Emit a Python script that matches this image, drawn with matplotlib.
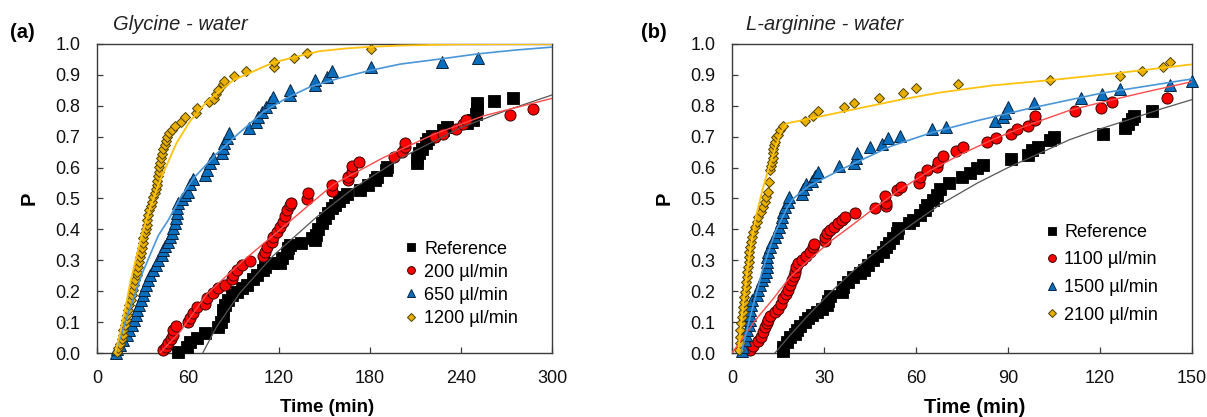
import matplotlib
matplotlib.use("Agg")
import matplotlib.pyplot as plt
from matplotlib.ticker import MultipleLocator, FormatStrFormatter

plt.rcParams['font.family'] = ['Liberation Sans', 'DejaVu Sans']

# ---------------- Panel (a): Glycine - water ----------------
gly_ref_t = [53.6, 59.1, 61.3, 65.7, 71.2, 80.0, 81.5, 82.9, 83.3, 84.4, 86.6, 88.8, 92.1,
             95.4, 98.7, 102.6, 105.3, 109.6, 110.8, 115.8, 120.6, 121.8, 125.0, 126.1,
             127.2, 134.5, 141.5, 143.7, 144.4, 145.9, 148.1, 150.3, 152.5, 154.7, 156.9,
             159.7, 162.4, 164.6, 173.4, 178.9, 183.3, 184.8, 190.5, 191.4, 210.7, 211.1,
             212.5, 214.0, 216.9, 218.4, 220.6, 228.3, 230.5, 243.7, 248.1, 249.8, 250.3,
             250.3, 261.9, 274.4]
gly_ref_p = [0.004, 0.020, 0.037, 0.047, 0.064, 0.085, 0.101, 0.120, 0.139, 0.155, 0.172,
             0.188, 0.198, 0.209, 0.220, 0.239, 0.252, 0.269, 0.279, 0.292, 0.290, 0.306,
             0.323, 0.339, 0.350, 0.355, 0.371, 0.366, 0.382, 0.400, 0.420, 0.436, 0.452,
             0.468, 0.479, 0.493, 0.504, 0.515, 0.528, 0.544, 0.560, 0.571, 0.592, 0.603,
             0.616, 0.630, 0.646, 0.659, 0.679, 0.692, 0.702, 0.722, 0.730, 0.743, 0.754,
             0.773, 0.792, 0.808, 0.817, 0.824]

gly_200_t = [43.7, 45.5, 47.0, 48.6, 49.9, 50.3, 52.1, 60.2, 61.3, 63.5, 65.7, 71.2, 72.3,
             76.3, 80.0, 84.4, 88.8, 89.9, 92.1, 95.4, 100.9, 109.2, 110.8, 111.9, 115.2,
             115.8, 118.5, 120.6, 122.4, 123.9, 125.0, 127.2, 128.2, 138.2, 139.3, 154.7,
             154.7, 165.7, 165.7, 167.9, 167.9, 172.9, 195.8, 200.8, 203.0, 203.0, 222.8,
             227.9, 236.6, 241.0, 243.2, 272.3, 287.6]
gly_200_p = [0.010, 0.021, 0.031, 0.044, 0.058, 0.074, 0.087, 0.101, 0.112, 0.128, 0.150,
             0.160, 0.177, 0.193, 0.209, 0.220, 0.241, 0.252, 0.269, 0.285, 0.299, 0.314,
             0.328, 0.344, 0.360, 0.376, 0.393, 0.409, 0.425, 0.443, 0.463, 0.479, 0.487,
             0.500, 0.517, 0.525, 0.544, 0.560, 0.571, 0.587, 0.605, 0.619, 0.635, 0.651,
             0.668, 0.681, 0.698, 0.709, 0.725, 0.741, 0.754, 0.770, 0.789]

gly_650_t = [12.5, 13.4, 15.2, 17.3, 19.6, 21.3, 22.9, 24.4, 25.7, 26.6, 27.9, 28.8, 30.1,
             31.0, 32.3, 33.8, 34.9, 37.1, 38.9, 40.4, 42.6, 43.7, 44.8, 47.0, 48.1, 49.2,
             50.3, 51.4, 52.1, 52.5, 52.9, 53.6, 55.8, 58.0, 60.2, 61.3, 63.0, 71.2, 72.3,
             74.5, 76.7, 82.2, 83.3, 83.7, 85.4, 87.2, 100.4, 104.8, 106.3, 108.6, 111.4,
             114.0, 115.8, 127.2, 127.2, 143.7, 143.7, 151.4, 154.7, 180.6, 227.2, 250.9]
gly_650_p = [0.000, 0.012, 0.026, 0.042, 0.058, 0.074, 0.091, 0.107, 0.123, 0.139, 0.155,
             0.172, 0.188, 0.204, 0.220, 0.236, 0.252, 0.269, 0.285, 0.301, 0.317, 0.333,
             0.346, 0.360, 0.376, 0.389, 0.403, 0.420, 0.436, 0.452, 0.468, 0.484, 0.500,
             0.511, 0.522, 0.547, 0.562, 0.576, 0.592, 0.614, 0.630, 0.646, 0.662, 0.679,
             0.695, 0.711, 0.727, 0.749, 0.765, 0.781, 0.797, 0.813, 0.830, 0.835, 0.851,
             0.867, 0.883, 0.894, 0.914, 0.927, 0.943, 0.956]

gly_1200_t = [13.4, 14.0, 15.2, 16.3, 16.9, 17.3, 18.5, 19.1, 20.0, 20.6, 21.3, 22.2, 22.9,
              23.5, 24.4, 25.0, 26.2, 26.6, 27.2, 27.9, 28.3, 28.8, 29.5, 30.1, 30.5, 31.6,
              32.3, 32.8, 33.2, 33.8, 34.5, 35.4, 36.1, 37.1, 38.2, 38.9, 39.3, 39.7, 40.4,
              40.6, 41.0, 41.5, 41.9, 42.6, 43.7, 44.8, 45.5, 46.4, 47.7, 49.2, 51.4, 55.2,
              58.0, 65.3, 66.1, 74.0, 77.1, 78.4, 80.0, 82.9, 83.7, 90.3, 98.2, 116.7, 116.7,
              130.0, 138.2, 180.6]
gly_1200_p = [0.004, 0.015, 0.029, 0.044, 0.058, 0.074, 0.091, 0.107, 0.123, 0.139, 0.155,
              0.172, 0.188, 0.204, 0.220, 0.236, 0.252, 0.263, 0.279, 0.296, 0.312, 0.323,
              0.339, 0.355, 0.371, 0.387, 0.400, 0.414, 0.430, 0.447, 0.463, 0.476, 0.490,
              0.506, 0.519, 0.530, 0.544, 0.558, 0.573, 0.587, 0.601, 0.616, 0.630, 0.644,
              0.659, 0.673, 0.687, 0.700, 0.711, 0.722, 0.735, 0.749, 0.763, 0.778, 0.792,
              0.811, 0.822, 0.838, 0.851, 0.870, 0.881, 0.897, 0.912, 0.927, 0.943, 0.956,
              0.972, 0.984]

# fitted model curves (panel a)
gly_ref_fit_t = [69.7, 78.9, 94.3, 116.2, 144.8, 169.0, 200.0, 240.0, 270.0, 300.0]
gly_ref_fit_p = [0.0, 0.085, 0.195, 0.315, 0.440, 0.533, 0.630, 0.730, 0.785, 0.835]
gly_200_fit_t = [41.5, 55.0, 72.3, 94.3, 118.5, 140.0, 155.8, 188.7, 221.7, 254.6, 300.0]
gly_200_fit_p = [0.0, 0.070, 0.190, 0.290, 0.390, 0.480, 0.545, 0.632, 0.707, 0.767, 0.824]
gly_650_fit_t = [12.0, 20.0, 30.0, 40.4, 47.0, 54.7, 63.5, 78.9, 92.1, 109.6, 125.0, 140.0,
                 160.0, 180.6, 200.0, 227.2, 251.0, 275.0, 300.0]
gly_650_fit_p = [0.0, 0.120, 0.260, 0.380, 0.430, 0.500, 0.565, 0.645, 0.705, 0.780, 0.825,
                 0.860, 0.890, 0.915, 0.935, 0.952, 0.968, 0.980, 0.990]
gly_1200_fit_t = [12.0, 15.0, 18.5, 22.0, 26.2, 30.0, 35.0, 42.6, 52.5, 61.3, 72.3, 89.9,
                  116.2, 134.0, 147.0, 165.0, 181.0, 200.0, 240.0, 300.0]
gly_1200_fit_p = [0.0, 0.060, 0.140, 0.230, 0.315, 0.390, 0.470, 0.571, 0.680, 0.750, 0.813,
                  0.883, 0.940, 0.962, 0.977, 0.986, 0.991, 0.995, 0.999, 1.000]

# ---------------- Panel (b): L-arginine - water ----------------
arg_ref_t = [16.7, 16.7, 17.8, 18.9, 20.5, 21.1, 22.2, 23.8, 24.9, 26.0, 27.6, 29.2, 30.9,
             31.4, 31.9, 35.8, 36.3, 37.9, 39.6, 41.7, 43.0, 44.4, 45.9, 47.4, 49.1, 50.2,
             51.3, 52.6, 53.7, 54.2, 57.8, 59.1, 61.3, 62.9, 63.7, 65.6, 66.7, 67.8, 70.9,
             74.9, 77.6, 79.8, 81.7, 91.0, 96.6, 97.7, 99.9, 103.7, 105.0, 120.9, 128.1,
             129.2, 130.3, 131.1, 136.8]
arg_ref_p = [0.005, 0.021, 0.036, 0.053, 0.061, 0.074, 0.087, 0.101, 0.112, 0.123, 0.134,
             0.144, 0.155, 0.169, 0.184, 0.198, 0.215, 0.231, 0.245, 0.258, 0.269, 0.285,
             0.301, 0.314, 0.328, 0.342, 0.355, 0.371, 0.387, 0.403, 0.420, 0.430, 0.446,
             0.463, 0.479, 0.495, 0.511, 0.530, 0.549, 0.571, 0.582, 0.598, 0.608, 0.627,
             0.641, 0.657, 0.668, 0.689, 0.698, 0.709, 0.727, 0.741, 0.756, 0.767, 0.784]

arg_1100_t = [5.9, 6.7, 8.6, 9.4, 10.0, 10.8, 11.3, 11.8, 12.4, 14.0, 15.1, 15.9, 16.7,
              17.6, 18.4, 18.9, 19.5, 20.2, 20.5, 20.9, 21.6, 22.7, 24.1, 25.4, 26.3, 26.7,
              30.3, 30.3, 31.1, 31.9, 33.3, 34.7, 35.8, 36.8, 40.1, 46.6, 50.2, 50.2, 50.0,
              53.7, 55.0, 61.1, 61.3, 63.5, 66.7, 67.3, 68.7, 73.0, 75.2, 83.0, 86.1, 90.9,
              93.0, 96.6, 98.8, 98.8, 111.8, 120.2, 123.8, 141.7]
arg_1100_p = [0.010, 0.022, 0.040, 0.053, 0.069, 0.083, 0.096, 0.107, 0.120, 0.134, 0.144,
              0.160, 0.177, 0.191, 0.204, 0.220, 0.236, 0.250, 0.263, 0.277, 0.292, 0.301,
              0.314, 0.328, 0.342, 0.353, 0.363, 0.376, 0.387, 0.398, 0.409, 0.420, 0.430,
              0.441, 0.452, 0.468, 0.476, 0.487, 0.508, 0.528, 0.538, 0.551, 0.571, 0.592,
              0.603, 0.619, 0.638, 0.655, 0.668, 0.684, 0.697, 0.708, 0.725, 0.736, 0.754,
              0.767, 0.784, 0.794, 0.813, 0.824]

arg_1500_t = [3.2, 3.7, 4.2, 4.6, 5.0, 5.6, 5.9, 5.9, 5.9, 6.1, 6.4, 8.1, 8.6, 9.1, 9.7,
              10.4, 11.1, 11.5, 11.5, 11.5, 11.8, 12.4, 12.9, 14.0, 14.8, 15.4, 15.9, 16.2,
              16.7, 17.3, 18.4, 18.7, 22.7, 23.2, 24.1, 26.0, 27.1, 28.1, 35.0, 39.8, 40.4,
              40.7, 45.0, 48.8, 51.0, 54.8, 65.1, 69.8, 85.8, 88.5, 89.0, 90.1, 98.6, 113.7,
              120.7, 126.5, 142.8, 149.9]
arg_1500_p = [0.005, 0.021, 0.042, 0.058, 0.074, 0.091, 0.107, 0.123, 0.139, 0.155, 0.172,
              0.188, 0.204, 0.220, 0.236, 0.250, 0.263, 0.279, 0.296, 0.312, 0.328, 0.344,
              0.360, 0.376, 0.393, 0.409, 0.425, 0.441, 0.457, 0.473, 0.490, 0.506, 0.515,
              0.530, 0.547, 0.558, 0.573, 0.587, 0.605, 0.616, 0.630, 0.646, 0.666, 0.676,
              0.695, 0.702, 0.724, 0.732, 0.752, 0.765, 0.778, 0.795, 0.810, 0.824, 0.838,
              0.853, 0.867, 0.881]

arg_2100_t = [2.4, 2.6, 2.6, 2.6, 2.8, 3.2, 3.5, 3.7, 3.9, 4.0, 4.2, 4.5, 4.6, 4.8, 5.0,
              5.3, 5.4, 5.6, 5.6, 5.9, 6.1, 6.4, 6.9, 7.5, 8.1, 8.6, 9.4, 10.0, 10.6, 11.2,
              11.6, 12.2, 12.4, 12.7, 12.9, 13.3, 13.3, 13.5, 13.7, 14.0, 14.3, 15.1, 15.7,
              16.7, 23.8, 26.5, 27.9, 36.5, 39.8, 48.0, 55.9, 60.0, 73.8, 103.7, 126.5, 133.6,
              140.6, 142.8]
arg_2100_p = [0.010, 0.031, 0.053, 0.074, 0.096, 0.118, 0.134, 0.150, 0.166, 0.182, 0.198,
              0.215, 0.231, 0.247, 0.263, 0.279, 0.296, 0.312, 0.328, 0.344, 0.360, 0.376,
              0.393, 0.409, 0.425, 0.441, 0.457, 0.473, 0.490, 0.506, 0.522, 0.552, 0.592,
              0.605, 0.619, 0.632, 0.646, 0.660, 0.673, 0.684, 0.698, 0.706, 0.722, 0.735,
              0.752, 0.768, 0.783, 0.797, 0.810, 0.826, 0.840, 0.857, 0.870, 0.883, 0.897,
              0.914, 0.927, 0.941]

# fitted model curves (panel b)
arg_ref_fit_t = [14.0, 18.9, 25.0, 31.9, 40.0, 45.0, 57.0, 67.8, 80.0, 90.0, 100.0, 110.0,
                 120.0, 130.0, 140.0, 150.0]
arg_ref_fit_p = [0.0, 0.057, 0.124, 0.194, 0.270, 0.312, 0.405, 0.480, 0.550, 0.600, 0.645,
                 0.690, 0.725, 0.757, 0.790, 0.820]
arg_1100_fit_t = [0.0, 4.0, 8.1, 13.0, 18.9, 25.0, 31.9, 40.0, 47.2, 55.0, 64.6, 75.0, 86.0,
                  97.2, 110.0, 120.0, 135.0, 150.0]
arg_1100_fit_p = [0.0, 0.055, 0.112, 0.170, 0.245, 0.300, 0.360, 0.420, 0.475, 0.530, 0.590,
                  0.645, 0.695, 0.740, 0.785, 0.810, 0.845, 0.878]
arg_1500_fit_t = [3.0, 6.0, 10.0, 14.0, 18.0, 20.0, 25.0, 35.2, 51.5, 65.0, 80.0, 97.2,
                  120.0, 150.0]
arg_1500_fit_p = [0.0, 0.120, 0.270, 0.390, 0.470, 0.500, 0.540, 0.592, 0.668, 0.713, 0.752,
                  0.792, 0.840, 0.887]
arg_2100_fit_t = [2.0, 3.0, 4.0, 5.0, 6.5, 8.0, 10.0, 12.0, 14.0, 16.0, 17.8, 30.0, 40.0,
                  55.0, 67.8, 85.0, 103.7, 125.0, 150.0]
arg_2100_fit_p = [0.0, 0.100, 0.190, 0.270, 0.370, 0.450, 0.530, 0.600, 0.660, 0.715, 0.743,
                  0.768, 0.789, 0.820, 0.843, 0.866, 0.883, 0.905, 0.934]

gly_labels = ["Reference", "200 µl/min", "650 µl/min", "1200 µl/min"]
arg_labels = ["Reference", "1100 µl/min", "1500 µl/min", "2100 µl/min"]

# marker / line styles per series: black reference, red, blue, gold
STYLES = [
    dict(marker='s', ms=8.0, mfc='#000000', mec='#000000', mew=0.6),
    dict(marker='o', ms=8.0, mfc='#FF0000', mec='#3a0000', mew=0.7),
    dict(marker='^', ms=8.5, mfc='#0A6EBD', mec='#0B2440', mew=0.7),
    dict(marker='D', ms=5.6, mfc='#E8AE00', mec='#4f4000', mew=0.7),
]
FIT_STYLES = [
    dict(color='#555555', lw=0.9),
    dict(color='#FF4B4B', lw=1.0),
    dict(color='#4A96D8', lw=1.2),
    dict(color='#FFC20E', lw=1.3),
]
AXIS_COLOR = '#3c3c3c'

W, H = 1207, 417
fig = plt.figure(figsize=(W / 100, H / 100), dpi=100)


def px_box(x0, y0, x1, y1):
    return [x0 / W, 1 - y1 / H, (x1 - x0) / W, (y1 - y0) / H]


def draw_panel(ax, series, fits, labels, xmax, xstep, leg_anchor, leg_spacing,
               xlabel_size, xlabel_x):
    handles = []
    for (t, p), st in zip(series, STYLES):
        h, = ax.plot(t, p, linestyle='none', clip_on=False, zorder=3, **st)
        handles.append(h)
    for (t, p), fs in zip(fits, FIT_STYLES):
        ax.plot(t, p, zorder=4, solid_capstyle='round', **fs)
    ax.set_xlim(0, xmax)
    ax.set_ylim(0, 1.0)
    ax.xaxis.set_major_locator(MultipleLocator(xstep))
    ax.yaxis.set_major_locator(MultipleLocator(0.1))
    ax.yaxis.set_major_formatter(FormatStrFormatter('%.1f'))
    ax.tick_params(direction='in', length=4, width=0.9, color=AXIS_COLOR,
                   labelsize=13, labelcolor='#111111')
    ax.tick_params(axis='y', pad=12)
    ax.tick_params(axis='x', pad=12)
    for sp in ax.spines.values():
        sp.set_color(AXIS_COLOR)
        sp.set_linewidth(1.0)
    ax.set_xlabel('Time (min)', fontsize=xlabel_size, fontweight='bold')
    ax.xaxis.set_label_coords(xlabel_x, -0.175)
    ax.xaxis.label.set_verticalalignment('center')
    ax.set_ylabel('P', fontsize=14.5, fontweight='bold', labelpad=12)
    ax.legend(handles, labels, loc='upper left', bbox_to_anchor=leg_anchor,
              frameon=False, fontsize=13, markerscale=0.7, handlelength=0.6,
              handletextpad=0.4, labelspacing=leg_spacing, borderpad=0,
              borderaxespad=0)


ax_a = fig.add_axes(px_box(97, 44, 552, 353))
draw_panel(ax_a,
           [(gly_ref_t, gly_ref_p), (gly_200_t, gly_200_p),
            (gly_650_t, gly_650_p), (gly_1200_t, gly_1200_p)],
           [(gly_ref_fit_t, gly_ref_fit_p), (gly_200_fit_t, gly_200_fit_p),
            (gly_650_fit_t, gly_650_fit_p), (gly_1200_fit_t, gly_1200_fit_p)],
           gly_labels, 300, 60, (0.679, 0.364), 0.34, 13.5, 0.505)

ax_b = fig.add_axes(px_box(732, 44, 1192, 353))
draw_panel(ax_b,
           [(arg_ref_t, arg_ref_p), (arg_1100_t, arg_1100_p),
            (arg_1500_t, arg_1500_p), (arg_2100_t, arg_2100_p)],
           [(arg_ref_fit_t, arg_ref_fit_p), (arg_1100_fit_t, arg_1100_fit_p),
            (arg_1500_fit_t, arg_1500_fit_p), (arg_2100_fit_t, arg_2100_fit_p)],
           arg_labels, 150, 30, (0.683, 0.418), 0.59, 14.5, 0.527)

# panel tags and titles
fig.text(10 / W, 1 - 33 / H, '(a)', fontsize=14.5, fontweight='bold', va='center', ha='left')
fig.text(113 / W, 1 - 25 / H, 'Glycine - water', fontsize=14.5, style='italic',
         va='center', ha='left', color='#222222')
fig.text(641 / W, 1 - 33 / H, '(b)', fontsize=14.5, fontweight='bold', va='center', ha='left')
fig.text(746 / W, 1 - 25 / H, 'L-arginine - water', fontsize=14.5, style='italic',
         va='center', ha='left', color='#222222')

fig.savefig('out.png', dpi=100)
